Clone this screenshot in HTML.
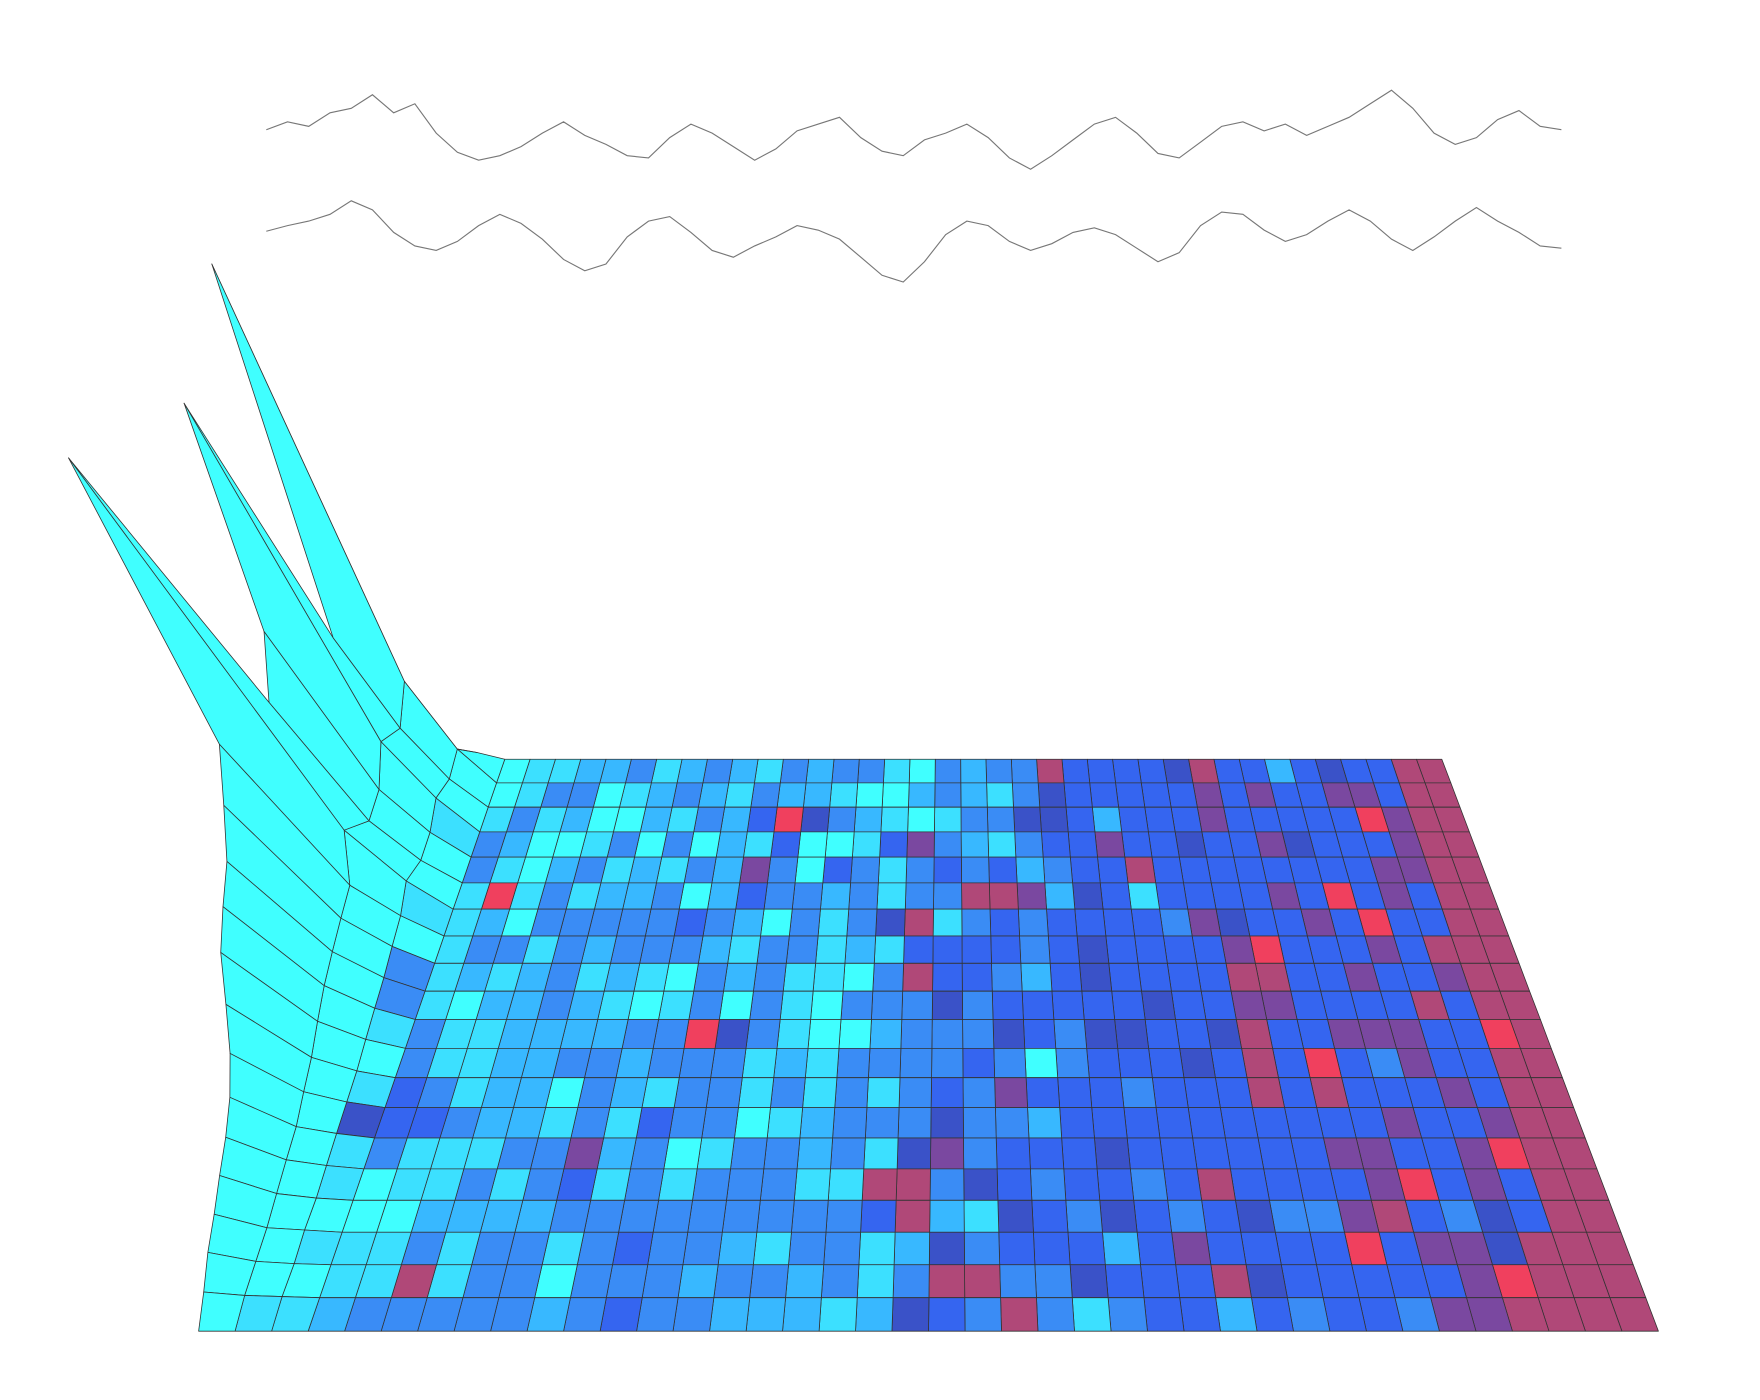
<!DOCTYPE html>
<html><head><meta charset="utf-8"><style>
html,body{margin:0;padding:0;background:#fff;width:1760px;height:1400px;overflow:hidden}
svg{display:block}
</style></head><body>
<svg id="chart" width="1760" height="1400" viewBox="0 0 1560 1241" xmlns="http://www.w3.org/2000/svg">
<g id="waves"></g>
<g id="surf"></g>
</svg>
<script>
// ---- waveform data (y positions, top trace / bottom trace) ----
const wave1 = [115,108,112,100,96,84,100,92,118,135,142,138,130,118,108,120,128,138,140,122,110,118,130,142,132,116,110,104,122,134,138,124,118,110,122,140,150,138,124,110,104,118,136,140,126,112,108,116,110,120,112,104,92,80,96,118,128,122,106,98,112,115];
const wave2 = [205,200,196,190,178,186,206,218,222,214,200,190,198,212,230,240,234,210,196,192,206,222,228,218,210,200,204,212,228,244,250,232,208,196,200,214,222,216,206,202,208,220,232,224,200,188,190,204,214,208,196,186,196,212,222,210,196,184,196,206,218,220];
const waveX0 = 236, waveX1 = 1384;

// ---- surface data ----
const nCols = 40, nRows = 20;
const colorRows = [
"cccckkaabkabakbabbkcbabbmddddemddadeddmm",
"cccckbbckabakbaakccabakbedddddvdvddvvdmm",
"ccckbkaccakbadrebakckbbeedadddvdddddrvmm",
"cckbacckbcbcakdcckdvbakbddvddeddvedddvmm",
"cccbkcabkakbavbcdbkbdbdabddmddddddddvvmm",
"ccckrkbkaabcadbbabkbbmmvaedkddddvdrdvdmm",
"cckkacbbbbbdbacbkbemkbdbddddbveddvdrddmm",
"ccckbbkbabbbakbbkakddddbdeddddvrdddvdmmm",
"ccbkakabkakcbabkkcbmddbadeddddmmddvddvmm",
"ccbkcaabakckbcbkcbbbebdddddeddvvddddmdmm",
"cckbkkaaaabbrebkccabbbedbeeddemddvvvddrm",
"cccbkkaabbabbbkakbbbbdbcbdddedmdrdbvddmm",
"cckdbkaacbakbbkbkbkbdbvdddbdddmdmdddvdmm",
"cceddbaakbkdbbckabbbebbaddddddddddvddvmm",
"cckbkkkbbvabckbbabkevbdddeddddddvvddvrmm",
"cckckkbkbdkbkbbbkkmmbedbddbdmddddvrdvdmm",
"cccccaaaabbbbbbbbbdmakedbedbdebbvmdbedmm",
"cckkkbkbbkbdbbakbbkaebdddadvddddrdvvemmm",
"ccckkmkbbcbbbabbabkbmmbbedddmedddddvrmmm",
"ckkabbbbbabdbbaaakaedbmbkbddadbddbvvmmmm"
];
const palette = {c:"#40ffff",k:"#3ce0ff",a:"#38b8ff",b:"#3a8cf5",d:"#3565f0",e:"#3a52c8",v:"#7a48a0",m:"#b04878",r:"#f0405e"};
const heightCol0 = [20,460,150,380,200,160,400,170,140,115,100,85,65,48,36,28,22,16,11,5,0];
const heightCol1 = [10,90,70,80,60,55,70,45,40,35,30,24,18,14,10,8,6,4,3,2,0];
const heightCol2 = [6,30,25,30,22,20,25,18,15,12,10,8,6,5,4,3,2,2,1,1,0];

// ---- geometry ----
const topY = 673, botY = 1180;
const topL = 380, topR = 1278, botL = 176, botR = 1470;
function rowT(r){ const t = r / nRows; return 0.82*t + 0.18*t*t; }
function vertex(r, c){
  const t = rowT(r);
  const y = topY + (botY - topY) * t;
  const xl = topL + (botL - topL) * t, xr = topR + (botR - topR) * t;
  let x = xl + (xr - xl) * c / nCols;
  let h = 0;
  if (c === 0) h = heightCol0[r]; else if (c === 1) h = heightCol1[r]; else if (c === 2) h = heightCol2[r];
  const lean = 0.35 + 1.2 * t;
  return [x - h*lean, y - h];
}

const NS = "http://www.w3.org/2000/svg";
const wg = document.getElementById('waves');
[wave1, wave2].forEach((w, i) => {
  const pts = w.map((v, j) => (waveX0 + (waveX1 - waveX0) * j / (w.length - 1)).toFixed(1) + "," + v).join(" ");
  const pl = document.createElementNS(NS, "polyline");
  pl.setAttribute("points", pts);
  pl.setAttribute("fill", "none");
  pl.setAttribute("stroke", "#777");
  pl.setAttribute("stroke-width", "1");
  
  
  wg.appendChild(pl);
});

const sg = document.getElementById('surf');
for (let r = 0; r < nRows; r++) {
  for (let c = nCols - 1; c >= 0; c--) {
    const ch = (colorRows[r] || "")[c] || "b";
    const p = [vertex(r,c), vertex(r,c+1), vertex(r+1,c+1), vertex(r+1,c)];
    const poly = document.createElementNS(NS, "polygon");
    poly.setAttribute("points", p.map(q => q[0].toFixed(1) + "," + q[1].toFixed(1)).join(" "));
    poly.setAttribute("fill", palette[ch] || "#3a8cf5");
    poly.setAttribute("stroke", "#333");
    poly.setAttribute("stroke-width", "0.7");
    poly.setAttribute("stroke-linejoin", "round");
    
    
    sg.appendChild(poly);
  }
}
</script>
</body></html>
